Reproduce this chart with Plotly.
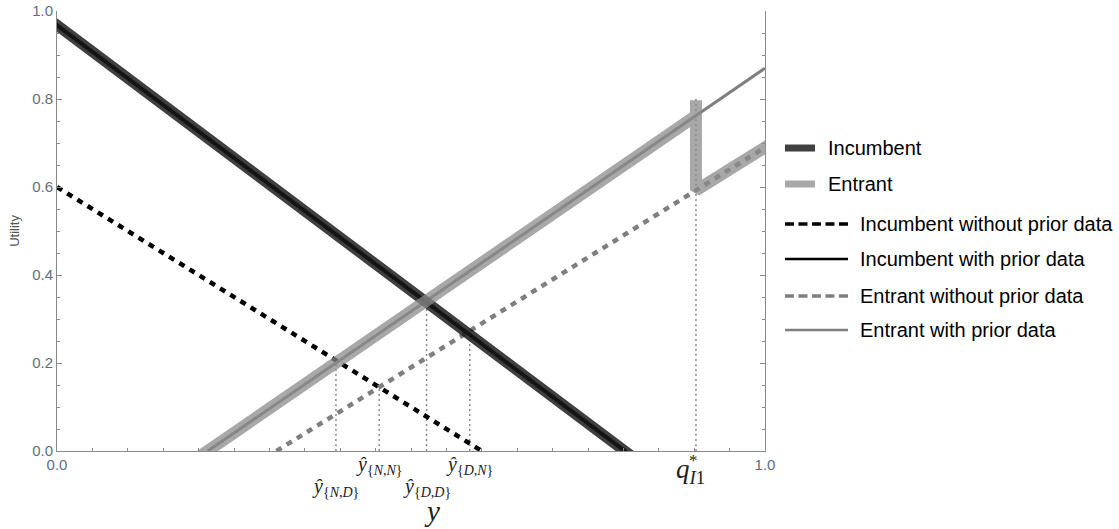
import plotly.graph_objects as go

# ---------------- data ----------------
inc_no_x = [0.0, 0.6]
inc_no_y = [0.6, 0.0]
inc_with_x = [-0.02, 0.85]
inc_with_y = [0.992, -0.058]
ent_no_x = [0.31, 1.0]
ent_no_y = [0.0, 0.69]
ent_with_x = [0.213, 1.0]
ent_with_y = [0.0, 0.87]
inc_band_x = [-0.02, 0.85]
inc_band_y = [0.992, -0.058]
ent_band_x = [0.18, 0.9025, 0.9025, 0.9025, 1.02]
ent_band_y = [-0.036, 0.762, 0.797, 0.5925, 0.71]

thr_names = ["N,D", "N,N", "D,D", "D,N"]
thr_x = [0.394, 0.455, 0.522, 0.583]
thr_h = [0.203, 0.148, 0.345, 0.27]
thr_row = [1, 0, 1, 0]          # 0 = upper label row, 1 = lower label row
q_x = 0.9025
q_h = 0.8

legend_labels = ["Incumbent", "Entrant", "Incumbent without prior data",
                 "Incumbent with prior data", "Entrant without prior data",
                 "Entrant with prior data"]

# ---------------- styles ----------------
C_INC_BAND = "rgba(24,24,24,0.83)"
C_ENT_BAND = "rgba(138,138,138,0.74)"
C_BLACK = "#000000"
C_GRAY = "#7f7f7f"
C_DOT = "#8c8c8c"
AX = "#8a8a8a"
TICKC = "#5f6e80"
SANS = "Liberation Sans, Arial, sans-serif"
SERIF = "Liberation Serif, Times New Roman, serif"

fig = go.Figure()

# dotted guide lines
for xv, hv in zip(thr_x + [q_x], thr_h + [q_h]):
    fig.add_trace(go.Scatter(x=[xv, xv], y=[0, hv], mode="lines",
                             line=dict(color=C_DOT, width=1.5, dash="2px,3px"),
                             hoverinfo="skip"))

fig.add_trace(go.Scatter(x=inc_no_x, y=inc_no_y, mode="lines",
                         line=dict(color=C_BLACK, width=4.5, dash="6px,6px")))
fig.add_trace(go.Scatter(x=ent_no_x, y=ent_no_y, mode="lines",
                         line=dict(color=C_GRAY, width=4.5, dash="6px,6px")))
fig.add_trace(go.Scatter(x=inc_with_x, y=inc_with_y, mode="lines",
                         line=dict(color=C_BLACK, width=4)))
fig.add_trace(go.Scatter(x=ent_with_x, y=ent_with_y, mode="lines",
                         line=dict(color=C_GRAY, width=3)))
fig.add_trace(go.Scatter(x=inc_band_x, y=inc_band_y, mode="lines",
                         line=dict(color=C_INC_BAND, width=11)))
fig.add_trace(go.Scatter(x=ent_band_x, y=ent_band_y, mode="lines",
                         line=dict(color=C_ENT_BAND, width=12)))

ann = []
shapes = []

# threshold labels under the axis
row_y = [-0.032, -0.084]
for name, xv, r in zip(thr_names, thr_x, thr_row):
    a, b = name.split(",")
    ann.append(dict(x=xv, y=row_y[r], xref="x", yref="paper", showarrow=False,
                    text=f"<i>ŷ</i><sub>{{<i>{a}</i>,<i>{b}</i>}}</sub>",
                    font=dict(family=SERIF, size=20, color="#222"),
                    xanchor="center", yanchor="middle"))
# q*_{I1}
ann.append(dict(x=q_x, y=-0.045, xref="x", yref="paper", showarrow=False,
                text="<i>q</i><sub><i>I</i>1</sub>",
                font=dict(family=SERIF, size=27, color="#222"),
                xanchor="center", yanchor="middle", xshift=-5))
ann.append(dict(x=q_x, y=-0.022, xref="x", yref="paper", showarrow=False,
                text="*", font=dict(family=SERIF, size=17, color="#222"),
                xanchor="center", yanchor="middle", xshift=-2))
# axis titles
ann.append(dict(x=0.53, y=-(529 - 451) / 440, xref="paper", yref="paper",
                showarrow=False, text="<i>y</i>",
                font=dict(family=SERIF, size=29, color="#222"),
                xanchor="center", yanchor="bottom"))
ann.append(dict(x=-0.061, y=0.5, xref="paper", yref="paper", showarrow=False,
                text="Utility", textangle=-90,
                font=dict(family=SANS, size=13, color="#555"),
                xanchor="center", yanchor="middle"))

# manual legend
leg_y = [0.6886, 0.6068, 0.5159, 0.4364, 0.3523, 0.275]
leg_styles = [
    dict(color="#404040", width=7),
    dict(color="#a8a8a8", width=7),
    dict(color=C_BLACK, width=3.5, dash="9px,4.5px"),
    dict(color=C_BLACK, width=2.5),
    dict(color=C_GRAY, width=3.5, dash="9px,4.5px"),
    dict(color=C_GRAY, width=2.5),
]
for i, (lab, yv, st) in enumerate(zip(legend_labels, leg_y, leg_styles)):
    x0 = 1.0282
    x1 = 1.0706 if i < 2 else 1.1172
    tx = 1.0855 if i < 2 else 1.1315
    shapes.append(dict(type="line", xref="paper", yref="paper",
                       x0=x0, x1=x1, y0=yv, y1=yv, line=st))
    ann.append(dict(x=tx, y=yv, xref="paper", yref="paper", showarrow=False,
                    text=lab, font=dict(family=SANS, size=20, color="#000"),
                    xanchor="left", yanchor="middle"))

fig.update_layout(
    width=1119, height=529,
    margin=dict(l=57, r=354, t=11, b=78, autoexpand=False),
    plot_bgcolor="white", paper_bgcolor="white",
    showlegend=False,
    annotations=ann, shapes=shapes,
    xaxis=dict(range=[0, 1], tickmode="array", tickvals=[0, 1],
               ticktext=["0.0", "1.0"], ticks="inside", ticklen=5,
               tickcolor=AX, showline=True, linecolor=AX, linewidth=1,
               mirror=False, showgrid=False, zeroline=False, automargin=False,
               tickfont=dict(family=SANS, size=15, color=TICKC),
               minor=dict(tickmode="linear", tick0=0, dtick=0.05,
                          ticks="inside", ticklen=3, tickcolor=AX,
                          showgrid=False)),
    yaxis=dict(range=[0, 1], tickmode="linear", tick0=0, dtick=0.2,
               tickformat=".1f", ticks="inside", ticklen=5,
               tickcolor=AX, showline=True, linecolor=AX, linewidth=1,
               mirror="ticks", showgrid=False, zeroline=False, automargin=False,
               tickfont=dict(family=SANS, size=15, color=TICKC),
               minor=dict(tickmode="linear", tick0=0, dtick=0.05,
                          ticks="inside", ticklen=3, tickcolor=AX,
                          showgrid=False)),
)

fig.write_html("out.html")
